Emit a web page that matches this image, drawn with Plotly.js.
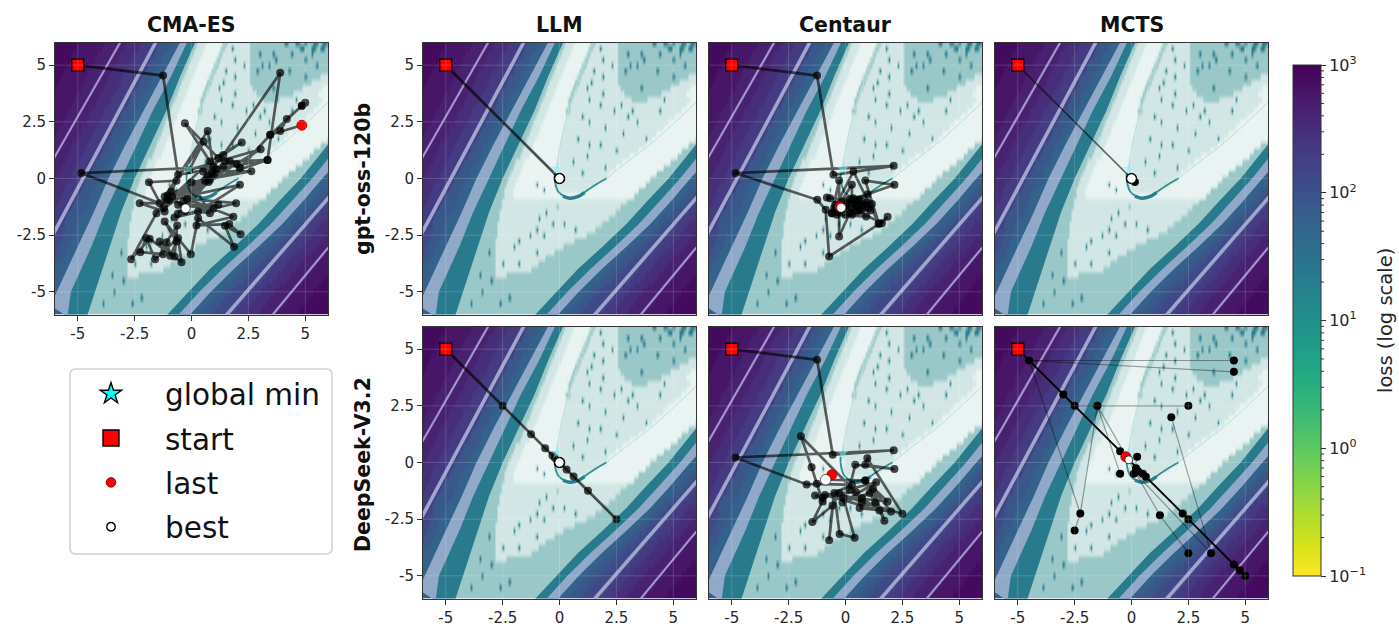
<!DOCTYPE html>
<html>
<head>
<meta charset="utf-8">
<script src="https://cdn.plot.ly/plotly-3.0.1.min.js"></script>
<style>html,body{margin:0;padding:0;background:#fff}#chart{width:1399px;height:630px}</style>
</head>
<body>
<div id="chart"></div>
<script>
// Loss landscape: one run-length row per y (6 down to -6, step 0.25).
// Token = level letter + end column (column c is x = -6 + 0.1*c).
const lossRows = [
"a11 b22 c32 d38 e46 g51 h57 A63 W67 S74 A76 W86 A101 T103 A106 T108 A110 T111 A114 T116 A118 T120 A121",
"a10 b21 c31 d37 e45 g50 h56 A62 W66 S73 A75 W78 T79 W86 A108 T110 A113 T115 A117 T119 A121",
"a8 b19 c29 d35 e44 g48 h55 A61 W65 S72 A74 W86 A90 T91 A96 T97 A104 T105 A113 T114 A121",
"a7 b18 c28 d34 e42 g47 h54 A60 W64 S71 A73 W79 T80 W86 A97 T98 A110 T111 A121",
"a6 b17 c27 d33 e41 g46 h53 A59 W63 S70 A72 W83 T84 W86 A91 T92 A94 T95 A115 T116 A121",
"a4 b15 c25 d31 e40 g44 h51 A58 W62 S69 A71 W75 T76 W86 A89 T90 A103 T104 A121",
"a3 b14 c24 d30 e38 g43 h50 A57 W61 S68 A70 W79 T80 W86 A110 T111 A117 W121",
"a2 b13 c23 d29 e37 g42 h49 A56 W60 S67 A69 W74 T75 W86 A113 W121",
"a1 b12 c22 d28 e36 g41 h47 A55 W59 S66 A68 W72 T73 W87 A96 T97 A109 W118 S121",
"b10 c20 d26 e34 g39 h46 A54 W58 S65 A67 W79 T80 W89 A105 W116 S121",
"b9 c19 d25 e33 g38 h45 A53 W57 S64 A66 W73 T74 W92 A99 W106 T107 W118 S121",
"b8 c18 d24 e32 g37 h44 A52 W56 S64 A65 W78 T79 W87 T88 W116 S121",
"b6 c16 d22 e30 g35 h42 A51 W55 S63 A65 W84 T85 W92 T93 W104 T105 W114 S121",
"b5 c15 d21 e29 g34 h41 A50 W54 S63 W70 T71 W90 T91 W111 S121",
"b4 c14 d20 e28 g33 h40 A49 W53 S63 W73 T74 W94 T95 W108 S121",
"b2 c12 d18 e26 g31 h39 A48 W52 S62 W80 T81 W106 S121",
"b1 c11 d17 e25 g30 h38 A47 W51 S62 W88 T89 W103 S121",
"c10 d16 e24 g29 h37 A46 W50 S61 W68 T69 W98 T99 W101 S120 A121",
"c8 d14 e22 g27 h35 A45 W49 S60 W73 T74 W78 T79 W98 S117 A121",
"c7 d13 e21 g26 h34 A44 W48 S60 W85 T86 W95 S114 A121",
"c6 d12 e20 g25 h33 A43 W47 S60 W72 T73 W91 S112 A121",
"c5 d11 e18 g24 h32 A41 W45 S59 W66 T67 W88 S109 A118 h121",
"c3 d9 e17 g22 h30 A40 W44 S59 W80 T81 W85 S106 A116 h121",
"c2 d8 e16 g21 h29 A39 W43 S58 W70 T71 W82 S103 A114 h121",
"c1 d7 e14 g20 h28 A38 W42 S60 W81 S100 A113 h121",
"d5 e13 g18 h27 A37 W41 S50 T51 S58 W77 S98 A111 h121",
"d4 e12 g17 h26 A36 W40 S53 T54 S59 W73 S95 A108 h117 g121",
"d3 e10 g16 h25 A36 W40 S93 A106 h115 g119 f121",
"d2 e9 g15 h23 A35 W90 A104 h113 g117 f121",
"d1 e8 g14 h22 A35 W59 A60 W87 A102 h111 g115 f119 e121",
"e6 g13 h21 A34 W54 T55 W85 A100 h109 g113 f117 e121",
"e5 g11 h20 A34 W51 T52 W82 A97 h106 g110 f114 e120 d121",
"e4 g10 h19 A33 W57 T58 W62 T63 W79 A95 h104 g108 f112 e117 d121",
"e2 f5 g9 h18 A33 W50 T51 W67 T68 W76 A92 h101 g105 f110 e115 d121",
"f4 g8 h17 A33 W47 T48 W53 T54 W72 A90 h99 g103 f108 e113 d119 c121",
"f3 g7 h16 A32 W42 T43 W67 A87 h96 g100 f106 e111 d117 c121",
"f2 g6 h15 A32 W40 T41 W62 A84 h93 g98 f104 e109 d115 c121",
"f1 g5 h14 A29 T30 A32 W50 T51 W58 A81 h90 g95 f102 e107 d113 c119 b121",
"g4 h13 A32 W54 A79 h88 g93 f99 e104 d110 c117 b121",
"g2 h12 A32 W35 T36 W42 T43 W51 A76 h85 g90 f97 e102 d108 c115 b121",
"g1 h11 A32 W48 A74 h83 g88 f95 e100 d106 c113 b121",
"h10 A25 T26 A32 W37 A71 h80 g85 f93 e98 d104 c111 b120 a121",
"h9 A30 T31 A69 h78 g83 f91 e96 d102 c109 b118 a121",
"h8 A66 h75 g80 f88 e93 d99 c107 b116 a121",
"h6 A26 T27 A64 h73 g78 f86 e91 d97 c105 b114 a121",
"h6 A38 T39 A61 h70 g75 f84 e89 d95 c103 b112 a121",
"h5 A21 T22 A34 T35 A59 h68 g73 f82 e87 d93 c101 b110 a121",
"h4 A57 h66 g71 f80 e85 d91 c99 b108 a121",
"h4 A55 h63 g69 f78 e84 d90 c97 b107 a121"
];
const levelOrder = "abcdefghTAWS";
const levelColors = ["#440a5f","#471668","#482271","#472e7a","#443b82","#404988","#3a5789","#34628c","#2a7a8e","#9ac7c8","#d2e7e5","#e9f4f2"];

// Contour bands and thin contour lines
const leftTealBandX = [.2,-.5,-1.1,-1.8,-2.5,-3.1,-3.6,-4.1,-4.6,-5.6,-5.5,-4.5,-3.2,-1.8,-.3];
const leftTealBandY = [6.1,4.5,3,1.5,0,-1.5,-3,-4.5,-6.1,-6.1,-5,-3,0,3,6.1];
const leftLavenderBandX = [-.45,-1.3,-2.1,-2.9,-3.65,-4.3,-5,-5.9,-6.2,-5.45,-5.3,-4.4,-3.8,-3.1,-2.4,-1.7,-.9,-.15];
const leftLavenderBandY = [6.1,4.5,3,1.5,0,-1.5,-3,-5,-5.6,-6.1,-5,-3,-1.5,0,1.5,3,4.5,6.1];
const rightTealBandX = [6.3,6,4.8,3.85,2.95,1.9,.8,-.15,-1.15,-.15,.85,1.85,2.95,4,4.9,5.75,6.3];
const rightTealBandY = [1.8,1.5,0,-1,-2,-3,-4,-5,-6.1,-6.1,-5,-4,-3,-2,-1,0,.6];
const rightLavenderBandX = [6.3,5.3,4.4,3.5,2.45,1.35,.35,-.65,-.15,.85,1.85,2.95,4,4.9,5.75,6.3];
const rightLavenderBandY = [1.25,0,-1,-2,-3,-4,-5,-6.1,-6.1,-5,-4,-3,-2,-1,0,.6];
const thinLineAX = [-3.08,-6.1], thinLineAY = [6.1,.8];
const thinLineBX = [-1.52,-6.1], thinLineBY = [6.1,-2.5];
const thinLineCX = [6.1,1.53], thinLineCY = [-.76,-6.03];
const thinLineDX = [6.1,3.55], thinLineDY = [-2.94,-6.03];
const crescentX = [-.22,-.2,-.06,.2,.45,.8,1.04,1.5,2.07], crescentY = [.25,-.15,-.57,-.78,-.86,-.8,-.64,-.33,.01];
const crescentCoreX = [.15,.45,.8,1.1], crescentCoreY = [-.78,-.87,-.8,-.62];
const ridgeRightX = [2.07,3,4.1,6.1], ridgeRightY = [.01,.75,1.6,3.45];
const ridgeLeftX = [1.5,.75,.16,-.13], ridgeLeftY = [6.1,4.1,2.07,.45];

const tickValues = [-5,-2.5,0,2.5,5];
const tickLabels = ["-5","-2.5","0","2.5","5"];
const startPoint = [-5,5];

const cmaX = [-5,-1.25,-.59,1.40,-4.85,-1.40,-2.28,-1.18,-1.87,-.66,-.88,-1.54,-2.65,-1.84,-.44,-.59,-1.60,-1.99,-2.25,-1.25,-1.40,-.74,-.63,-1.10,-.93,-.66,-1.18,-.03,.29,1.87,1.47,2.16,1.66,.22,1.84,-.19,1.96,-.74,1.18,-.59,.96,-1.10,2.13,.29,.81,0,2.63,.51,3.34,.81,3.04,-.10,.54,-1.18,.71,.96,-.29,1.18,2.21,.81,-.85,.7,-1.0,.9,-.3,1.1,-1.2,.6,-.6,.75,-1.05,1.0,-.35,1.40,3.90,3.34,1.69,1.47,1.99,2.13,3.46,3.90,4.19,4.85,5,4.85,3.46,4.85];
const cmaY = [5,4.54,.16,.53,.24,-1.09,-1.09,-1.46,-.16,-.10,-.57,-1.53,-3.56,-2.66,-3.69,-2.63,-3.56,-2.63,-3.25,-3.34,-2.78,-3.44,-2.07,-2.81,-3.41,-2.78,-1.90,-3.34,-1.75,-3.01,-2.09,-2.46,-2.01,-2.07,-1.69,-.90,-1.09,-1.72,-1.16,-1.16,-1.34,-.97,-.28,-1.46,-1.53,-.16,.32,.31,.82,-.06,1.29,.38,1.63,-.79,2.10,.53,2.44,.90,1.59,.75,-.8,.1,-.95,.25,-1.45,.4,-1.3,-.1,-1.55,-.15,-.75,.2,-1.0,1.04,4.66,.82,.75,.75,.63,.46,1.93,2.10,2.62,3.21,3.34,3.21,1.93,2.35];
const cmaBest = [-.26,-1.32], cmaLast = [4.85,2.35];

const llmGptX = [-5,0];
const llmGptY = [5,0];
const llmGptBest = [0,0];

const centaurGptX = [-5,-1.25,-.53,2.12,-4.84,-1.24,-.87,-.72,1.46,1.85,1.6,.28,-.28,-.28,-.6,.35,1.46,.87,2.15,.28,.28,-.38,.97,.13,-.82,.72,-.68,1.16,-.16,.91,-.38,.57,.5,-.01,.72,.35,.28,1.01,-.6,.1,.6,-.45,.9,-.25,.4,-.5,1.1,0,.75,-.35,.55,.2,.95,-.1,.45,-.19];
const centaurGptY = [5,4.54,.16,.56,.24,-.94,-1.38,-3.44,-2.01,-1.69,-1.97,-1.31,-2.56,-.09,-1.53,.31,-1.97,-.09,-.28,-.94,-.28,-1.31,-.69,-.94,-.84,-1.01,-.87,-1.13,-1.01,-1.68,-1.6,-.94,-1.46,-1.6,-1.38,-.87,-1.6,-1.31,-1.53,-1.1,-1.4,-1.15,-1.2,-1.45,-1.0,-1.3,-1.4,-1.2,-1.15,-1.5,-1.25,-1.5,-1.05,-1.3,-1.2,-1.29];
const centaurGptBest = [-.19,-1.29], centaurGptLast = [-.24,-1.25];

const mctsGptX = [-5,.15];
const mctsGptY = [5,-.15];
const mctsGptBest = [0,0];

const llmDsX = [-5,-2.5,2.5,-1.25,1.25,-.63,.62,-.31,.31,-.2,0];
const llmDsY = [5,2.5,-2.5,1.25,-1.25,.63,-.62,.31,-.31,.2,0];
const llmDsBest = [0,0];

const centaurDsX = [-5,-1.25,-.56,2.12,-4.84,-1.71,-1.26,.28,-1.01,-1.34,.46,-1.96,-1.49,-1.01,-1.46,-.57,-.72,-.49,-.26,.40,-.09,-.28,.72,2.5,.96,.87,2.15,.43,.16,1.35,-.13,1.06,1.31,.62,2,.87,1.71,1.21,.72,1.49,-.9,1.85,.87,-.87,-.60];
const centaurDsY = [5,4.53,.34,.54,.22,-.97,-.94,-.99,-1.57,-1.46,-1.31,1.16,-.21,-1.72,-2.63,-1.9,-3.43,-1.35,-3.15,-3.32,-1.57,-1.35,-1.75,-2.26,.19,-.1,-.29,-.1,-1.18,-.87,-1.76,-1.35,-1.76,-2.01,-2.16,-.79,-2.57,-1.16,-1.57,-2.12,-1.43,-1.72,-.79,-.76,-.54];
const centaurDsBest = [-.87,-.76], centaurDsLast = [-.60,-.54];

const mctsDsMainX = [-5,-4.5,-3,-2.5,-.5,-.25,-.12,.25,.5,.63,2.25,2.5,4.5,4.75,5];
const mctsDsMainY = [5,4.5,3,2.5,.5,.25,.12,-.25,-.5,-.63,-2.25,-2.5,-4.5,-4.75,-5];
const mctsDsFaintX = [-4.5,4.5,null,-4.5,4.5,null,-4.5,-2.25,-2.5,null,-2.5,-1.5,2.5,null,-1.5,-2.25,null,-1.5,-.5,null,-1.5,1.25,2.5,null,1.75,3.5,.2,null,.25,.1,.2,.5];
const mctsDsFaintY = [4.5,4.5,null,4.5,4,null,4.5,-2.25,-3,null,2.5,2.5,2.5,null,2.5,-2.25,null,2.5,-.5,null,2.5,-2.33,-4,null,2,-4,-.5,null,.25,-.5,-.25,-.5];
const mctsDsDotX = [-4.5,-3,-2.5,-1.5,2.5,1.75,4.5,4.5,-.5,-.5,.25,.2,.1,.5,.63,1.25,2.25,2.5,2.5,3.5,4.5,4.75,5,-2.25,-2.5,.3];
const mctsDsDotY = [4.5,3,2.5,2.5,2.5,2,4.5,4,.5,-.5,.25,-.25,-.5,-.5,-.63,-2.33,-2.25,-2.5,-4,-4,-4.5,-4.75,-5,-2.25,-3,-.4];
const mctsDsBest = [-.12,.12], mctsDsLast = [-.25,.25];

const globalMin = [-.12,.42];

const panelNames = ["CMA-ES","LLM","Centaur","MCTS"];
const rowNames = ["gpt-oss-120b","DeepSeek-V3.2"];
const legendNames = ["global min","start","last","best"];
const colorbarTickPowers = [-1,0,1,2,3];
const colorbarMinorFactors = [2,3,4,5,6,7,8,9];
const colorbarTitle = "loss (log scale)";

// ---- build the grid from the rows
const nCols = 121;
const gridZ = lossRows.map(r => {
  const row = new Array(nCols).fill(0);
  let pos = 0;
  r.split(" ").forEach(tok => {
    const lv = levelOrder.indexOf(tok[0]);
    const end = +tok.slice(1);
    for (; pos < end; pos++) row[pos] = lv;
  });
  return row;
});
const gridX = Array.from({length:nCols},(_, i)=> -6 + 0.1*i);
const gridY = lossRows.map((_, i)=> 6 - 0.25*i);
const zTop = levelColors.length-1;
const surfaceScale = levelColors.map((c,i)=>[i/zTop,c]);

// ---- layout helpers (pixels of the 1399x630 page)
const W = 1399, H = 630;
const fx = p => p/W, fy = p => 1 - p/H;
const panels = [
  {ax:"",  xr:[55,328],  yr:[42.5,314.5],  xlab:true,  ylab:true},
  {ax:"2", xr:[423,696], yr:[42.5,314.5],  xlab:false, ylab:true},
  {ax:"3", xr:[709,982], yr:[42.5,314.5],  xlab:false, ylab:false},
  {ax:"4", xr:[995,1268],yr:[42.5,314.5],  xlab:false, ylab:false},
  {ax:"5", xr:[423,696], yr:[326.5,598.5], xlab:true,  ylab:true},
  {ax:"6", xr:[709,982], yr:[326.5,598.5], xlab:true,  ylab:false},
  {ax:"7", xr:[995,1268],yr:[326.5,598.5], xlab:true,  ylab:false}
];

const font = '"DejaVu Sans", sans-serif';
const inkColor = "#262626";
const layout = {
  width:W, height:H, autosize:false,
  margin:{l:0,r:0,t:0,b:0}, paper_bgcolor:"#fff", plot_bgcolor:"#fff",
  font:{family:font,color:inkColor,size:15},
  showlegend:true,
  legend:{x:fx(57),xanchor:"left",y:fy(368),yanchor:"top",bgcolor:"rgba(0,0,0,0)",borderwidth:0,
          font:{size:29.5,family:font,color:"#111"},itemsizing:"trace",itemwidth:98,tracegroupgap:3,traceorder:"grouped"},
  shapes:[], annotations:[]
};
const traces = [];

function fillBand(ax,xs,ys,color){
  traces.push({type:"scatter",mode:"lines",x:xs,y:ys,fill:"toself",fillcolor:color,line:{width:0},xaxis:"x"+ax,yaxis:"y"+ax,showlegend:false,hoverinfo:"skip"});
}
function thinLine(ax,xs,ys,color,width,smooth){
  traces.push({type:"scatter",mode:"lines",x:xs,y:ys,line:{color:color,width:width,shape:smooth?"spline":"linear"},xaxis:"x"+ax,yaxis:"y"+ax,showlegend:false,hoverinfo:"skip"});
}

panels.forEach(p=>{
  const base = {range:[-6,6],tickmode:"array",tickvals:tickValues,ticktext:tickLabels,
    showgrid:false,zeroline:false,showline:true,mirror:true,linecolor:"#333",linewidth:1,
    layer:"above traces",tickfont:{size:15,family:font,color:inkColor}};
  layout["xaxis"+p.ax] = Object.assign({},base,{domain:[fx(p.xr[0]),fx(p.xr[1])],anchor:"y"+p.ax,
    ticks:p.xlab?"outside":"",ticklen:5,tickcolor:"#333",showticklabels:p.xlab});
  layout["yaxis"+p.ax] = Object.assign({},base,{domain:[fy(p.yr[1]),fy(p.yr[0])],anchor:"x"+p.ax,
    ticks:p.ylab?"outside":"",ticklen:5,tickcolor:"#333",showticklabels:p.ylab});
  traces.push({type:"heatmap",x:gridX,y:gridY,z:gridZ,zmin:0,zmax:zTop,zsmooth:"best",
    colorscale:surfaceScale,showscale:false,hoverinfo:"skip",xaxis:"x"+p.ax,yaxis:"y"+p.ax});
  fillBand(p.ax,leftTealBandX,leftTealBandY,"#2a7a8e");
  fillBand(p.ax,leftLavenderBandX,leftLavenderBandY,"#90a9c8");
  fillBand(p.ax,rightTealBandX,rightTealBandY,"#2a7a8e");
  fillBand(p.ax,rightLavenderBandX,rightLavenderBandY,"#90a9c8");
  thinLine(p.ax,thinLineAX,thinLineAY,"#a595cb",2.2);
  thinLine(p.ax,thinLineBX,thinLineBY,"#a0a6cd",3.6);
  thinLine(p.ax,thinLineCX,thinLineCY,"#a0a6cd",3.6);
  thinLine(p.ax,thinLineDX,thinLineDY,"#a595cb",2.2);
  thinLine(p.ax,ridgeLeftX,ridgeLeftY,"#b9ddda",1,true);
  thinLine(p.ax,ridgeRightX,ridgeRightY,"#b9ddda",1,true);
  thinLine(p.ax,crescentX,crescentY,"#2f8f92",1.8,true);
  thinLine(p.ax,crescentCoreX,crescentCoreY,"#2a7f8c",3.4,true);
  tickValues.forEach(v=>{
    layout.shapes.push({type:"line",xref:"x"+p.ax,yref:"paper",x0:v,x1:v,y0:fy(p.yr[1]),y1:fy(p.yr[0]),line:{color:"rgba(255,255,255,.16)",width:1}});
    layout.shapes.push({type:"line",yref:"y"+p.ax,xref:"paper",y0:v,y1:v,x0:fx(p.xr[0]),x1:fx(p.xr[1]),line:{color:"rgba(255,255,255,.16)",width:1}});
  });
});

const dark = "rgba(0,0,0,.62)";
function path(ax,xs,ys,opt){
  opt = opt||{};
  traces.push({type:"scatter",mode:opt.noDots?"lines":"lines+markers",x:xs,y:ys,xaxis:"x"+ax,yaxis:"y"+ax,showlegend:false,hoverinfo:"skip",
    line:{color:opt.color||dark,width:opt.width||2.7},
    marker:{color:opt.dot||"rgba(0,0,0,.72)",size:opt.size||8,line:{width:0}},connectgaps:false});
}
function dots(ax,xs,ys,size){
  traces.push({type:"scatter",mode:"markers",x:xs,y:ys,xaxis:"x"+ax,yaxis:"y"+ax,showlegend:false,hoverinfo:"skip",
    marker:{color:"#000",size:size,line:{width:0}}});
}
function marks(ax,last,best,bestSize,bestEdge){
  traces.push({type:"scatter",mode:"markers",x:[globalMin[0]],y:[globalMin[1]],xaxis:"x"+ax,yaxis:"y"+ax,showlegend:false,hoverinfo:"skip",
    marker:{symbol:"star",size:9,color:"rgba(120,240,250,.55)",line:{width:0}}});
  traces.push({type:"scatter",mode:"markers",x:[startPoint[0]],y:[startPoint[1]],xaxis:"x"+ax,yaxis:"y"+ax,showlegend:false,hoverinfo:"skip",
    marker:{symbol:"square",size:12,color:"#f00",line:{color:"#000",width:1.4}}});
  if(last) traces.push({type:"scatter",mode:"markers",x:[last[0]],y:[last[1]],xaxis:"x"+ax,yaxis:"y"+ax,showlegend:false,hoverinfo:"skip",
    marker:{size:10,color:"#f00",line:{color:"#a00000",width:.8}}});
  traces.push({type:"scatter",mode:"markers",x:[best[0]],y:[best[1]],xaxis:"x"+ax,yaxis:"y"+ax,showlegend:false,hoverinfo:"skip",
    marker:{size:bestSize,color:"#fff",line:{color:"#000",width:bestEdge}}});
}

path("",cmaX,cmaY);                 marks("",cmaLast,cmaBest,9,.6);
path("2",llmGptX,llmGptY,{color:"rgba(0,0,0,.68)",size:1}); marks("2",null,llmGptBest,10,1.6);
path("3",centaurGptX,centaurGptY);  marks("3",centaurGptLast,centaurGptBest,9,.6);
path("4",mctsGptX,mctsGptY,{color:"rgba(0,0,0,.6)",width:1.5,dot:"#000",size:8}); marks("4",null,mctsGptBest,10,1.4);
path("5",llmDsX,llmDsY,{color:"rgba(0,0,0,.66)"}); marks("5",null,llmDsBest,10,1.6);
path("6",centaurDsX,centaurDsY);    marks("6",centaurDsLast,centaurDsBest,10.5,.6);
path("7",mctsDsFaintX,mctsDsFaintY,{noDots:true,color:"rgba(0,0,0,.36)",width:1.2});
path("7",mctsDsMainX,mctsDsMainY,{noDots:true,color:"#000",width:1.9});
dots("7",mctsDsDotX,mctsDsDotY,8);
marks("7",mctsDsLast,mctsDsBest,8,.8);

// legend entries
const legendMarkers = [
  {symbol:"star",size:19,color:"#00ffff",line:{color:"#000",width:1.4}},
  {symbol:"square",size:16,color:"#f00",line:{color:"#000",width:1.4}},
  {symbol:"circle",size:9.5,color:"#f00",line:{color:"#8b0000",width:1}},
  {symbol:"circle",size:8.5,color:"#fff",line:{color:"#000",width:1.4}}
];
legendNames.forEach((n,i)=>{
  traces.push({type:"scatter",mode:"markers",name:n,legendgroup:n,x:[null],y:[null],marker:legendMarkers[i],hoverinfo:"skip"});
});

// colour bar
const cbVals=[], cbText=[];
colorbarTickPowers.forEach(p=>{
  cbVals.push(p); cbText.push("10<sup>"+(p<0?"\u2212"+(-p):p)+"</sup>");
});
traces.push({type:"scatter",mode:"markers",x:[50],y:[50],showlegend:false,hoverinfo:"skip",
  marker:{color:[1],cmin:-1,cmax:3,colorscale:"Viridis",reversescale:true,size:1,showscale:true,
    colorbar:{x:fx(1293),xanchor:"left",xpad:0,y:1-576/H,yanchor:"bottom",ypad:0,
      thicknessmode:"pixels",thickness:28,lenmode:"pixels",len:511,outlinecolor:"#333",outlinewidth:1,
      tickmode:"array",tickvals:cbVals,ticktext:cbText,ticks:"outside",ticklen:5,tickcolor:"#333",
      tickfont:{size:16,family:font,color:inkColor}}}});
// minor log ticks of the colour bar
colorbarTickPowers.slice(0,-1).forEach(p=>colorbarMinorFactors.forEach(f=>{
  const py = 576 - (p+1+Math.log10(f))*511/4;
  layout.shapes.push({type:"line",xref:"paper",yref:"paper",x0:fx(1321),x1:fx(1324),y0:fy(py),y1:fy(py),line:{color:"#333",width:1}});
}));
layout.annotations.push({xref:"paper",yref:"paper",x:fx(1385),y:fy(321),text:colorbarTitle,showarrow:false,textangle:-90,
  xanchor:"center",yanchor:"middle",font:{size:19.5,family:font,color:inkColor}});

// headings
[[191.5,0],[559.5,1],[845.5,2],[1131.5,3]].forEach(([x,i])=>{
  layout.annotations.push({xref:"paper",yref:"paper",x:fx(x),y:fy(25),text:"<b>"+panelNames[i]+"</b>",showarrow:false,
    xanchor:"center",yanchor:"middle",font:{size:20.5,family:font,color:"#111"}});
});
[[179,0],[465,1]].forEach(([y,i])=>{
  layout.annotations.push({xref:"paper",yref:"paper",x:fx(363),y:fy(y),text:"<b>"+rowNames[i]+"</b>",showarrow:false,textangle:-90,
    xanchor:"center",yanchor:"middle",font:{size:20.5,family:font,color:"#111"}});
});
// legend frame
const bx0=70,bx1=332,by0=369,by1=554,rr=6;
layout.shapes.push({type:"path",xref:"paper",yref:"paper",layer:"above",line:{color:"#d0d0d0",width:1.5},fillcolor:"rgba(255,255,255,0)",
  path:`M ${fx(bx0+rr)} ${fy(by0)} L ${fx(bx1-rr)} ${fy(by0)} Q ${fx(bx1)} ${fy(by0)} ${fx(bx1)} ${fy(by0+rr)} L ${fx(bx1)} ${fy(by1-rr)} Q ${fx(bx1)} ${fy(by1)} ${fx(bx1-rr)} ${fy(by1)} L ${fx(bx0+rr)} ${fy(by1)} Q ${fx(bx0)} ${fy(by1)} ${fx(bx0)} ${fy(by1-rr)} L ${fx(bx0)} ${fy(by0+rr)} Q ${fx(bx0)} ${fy(by0)} ${fx(bx0+rr)} ${fy(by0)} Z`});

Plotly.newPlot("chart",traces,layout,{displayModeBar:false,staticPlot:true});
</script>
</body>
</html>
